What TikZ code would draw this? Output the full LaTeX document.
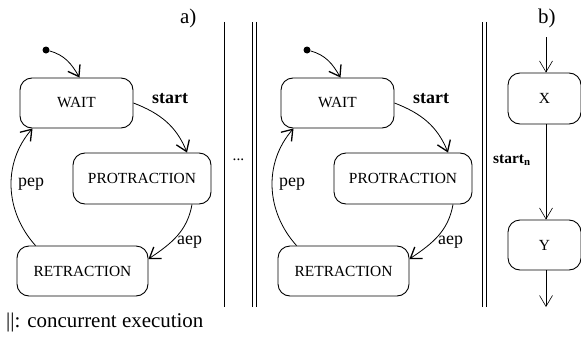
\documentclass[tikz,border=0pt]{standalone}
\usepackage{fontspec}
\setmainfont{Liberation Serif}
\usetikzlibrary{arrows.meta}

\tikzset{
  state/.style={draw, line width=0.9bp, rounded corners=12bp, inner sep=0pt,
    font=\fontsize{15.5}{18}\selectfont},
  initdot/.style={circle, fill=black, inner sep=0pt, minimum size=7bp},
  tr/.style={line width=0.8bp,
    -{Straight Barb[length=10bp,width=14bp,line width=1.3bp]}},
  trthin/.style={line width=0.6bp,
    -{Straight Barb[length=11bp,width=13bp,line width=0.6bp]}},
  lbl/.style={inner sep=0pt, anchor=base west, font=\fontsize{18}{21}\selectfont},
  big/.style={inner sep=0pt, anchor=base west, font=\fontsize{21}{25}\selectfont},
  concur/.style={double, double distance=2.7bp, line width=0.7bp},
}

% one WAIT -> PROTRACTION -> RETRACTION cycle; #1 = name suffix, #2 = horizontal offset
\newcommand\cyclepanel[2]{%
  \begin{scope}[xshift=#2]
    \node[state, minimum width=113bp, minimum height=50bp] (wait#1) at (76.5,238) {WAIT};
    \node[state, minimum width=138bp, minimum height=51bp] (pro#1) at (142,162.5) {PROTRACTION};
    \node[state, minimum width=131bp, minimum height=50bp] (ret#1) at (82.5,70) {RETRACTION};
    \node[initdot] (init#1) at (46,291) {};
    \draw[tr] (init#1) to[out=-15,in=120] ([xshift=3bp]wait#1.north);
    \draw[tr] (wait#1.east) to[out=-21,in=112] ([xshift=45bp]pro#1.north);
    \draw[tr] ([xshift=50bp]pro#1.south) to[out=-100,in=34] ([yshift=12bp]ret#1.east);
    \draw[tr] ([xshift=-47bp]ret#1.north) to[out=132,in=229] ([xshift=-44bp]wait#1.south);
    \node[lbl, font=\fontsize{18}{21}\selectfont\bfseries] (start#1) at (152,238) {start};
    \node[lbl] (aep#1) at (177,97) {aep};
    \node[lbl] (pep#1) at (18,155) {pep};
  \end{scope}}

\begin{document}
\begin{tikzpicture}[x=1bp,y=1bp]
\useasboundingbox (0,0) rectangle (581,341);

% a) two concurrent copies of the cycle
\node[big] (labA) at (180,318) {a)};
\cyclepanel{A}{0bp}
\cyclepanel{B}{261bp}

% separators between the concurrent regions
\draw[concur] (222.7,319) -- (222.7,34);
\draw[concur] (254.5,319) -- (254.5,34);
\draw[concur] (484.5,319) -- (484.5,34);
\node[inner sep=0pt, anchor=base, font=\fontsize{15.5}{18}\selectfont] (dots) at (238.5,181) {...};

% b) a single step X -> Y
\node[big] (labB) at (538,318) {b)};
\coordinate (inX) at (546,304);
\node[state, minimum width=73bp, minimum height=51bp] (X) at (544.5,242.5) {X};
\node[state, minimum width=73bp, minimum height=50bp] (Y) at (544.5,96) {Y};
\coordinate (outY) at (546,34);
\draw[trthin] (inX) -- (inX |- X.north);
\draw[trthin] (X.south -| inX) -- (Y.north -| inX);
\draw[trthin] (Y.south -| inX) -- (outY);
\node[inner sep=0pt, anchor=base west, font=\fontsize{15.5}{18}\selectfont\bfseries] (startn) at (493,178) {start\textsubscript{n}};

% legend
\node[big] (legend) at (6,14) {||: concurrent execution};
\end{tikzpicture}
\end{document}
